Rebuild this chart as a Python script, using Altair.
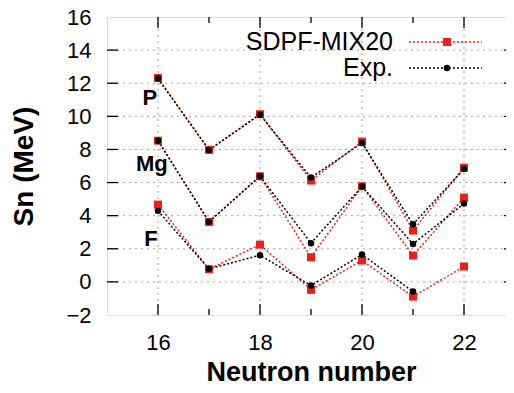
import altair as alt
import pandas as pd

# ---------------- data ----------------
neutrons = [16, 17, 18, 19, 20, 21, 22]
p_model = [12.32, 7.97, 10.13, 6.12, 8.47, 3.10, 6.90]
p_exp = [12.28, 7.97, 10.10, 6.30, 8.39, 3.48, 6.82]
mg_model = [8.53, 3.62, 6.38, 1.49, 5.78, 1.59, 5.09]
mg_exp = [8.53, 3.64, 6.38, 2.34, 5.76, 2.29, 4.73]
f_model = [4.67, 0.77, 2.25, -0.48, 1.29, -0.89, 0.93]
f_exp = [4.29, 0.79, 1.61, -0.22, 1.65, -0.58, None]

elements = ["P", "Mg", "F"]
label_n = [15.84, 15.88, 15.86]
label_sn = [11.1, 7.1, 2.6]

series_names = ["SDPF-MIX20", "Exp."]
x_major = [16, 18, 20, 22]
x_minor = [17, 19, 21]
y_ticks = [-2, 0, 2, 4, 6, 8, 10, 12, 14, 16]

rows = []
for elem, mod, exp in zip(elements, [p_model, mg_model, f_model], [p_exp, mg_exp, f_exp]):
    for n, m, e in zip(neutrons, mod, exp):
        rows.append({"N": n, "Sn": m, "elem": elem, "series": series_names[0]})
        if e is not None:
            rows.append({"N": n, "Sn": e, "elem": elem, "series": series_names[1]})
df = pd.DataFrame(rows)
model_df = df[df.series == series_names[0]]
exp_df = df[df.series == series_names[1]]
labels_df = pd.DataFrame({"elem": elements, "N": label_n, "Sn": label_sn})
xmaj_df = pd.DataFrame({"N": x_major})
xmin_df = pd.DataFrame({"N": x_minor})
ytick_df = pd.DataFrame({"Sn": y_ticks[1:-1]})
legend_df = pd.DataFrame({"series": series_names})

# ---------------- styling ----------------
W, H = 408, 298
FONT = "Liberation Sans"
RED = "#e8221b"
BLACK = "#000000"
GRID = "#a0a0a0"
xs = alt.Scale(domain=[15, 23], nice=False, zero=False)
ys = alt.Scale(domain=[-2, 16], nice=False, zero=False)

x_axis = alt.Axis(
    values=x_major, grid=False, ticks=False, domain=False, labelOverlap=False,
    labelFont=FONT, labelFontSize=22, labelColor=BLACK, labelPadding=17,
    title="Neutron number", titleFont=FONT, titleFontSize=27, titleFontWeight="bold",
    titleColor=BLACK, titleY=65, titleBaseline="alphabetic",
)
y_axis = alt.Axis(
    values=y_ticks, grid=False, ticks=False, domain=False, labelOverlap=False,
    labelFont=FONT, labelFontSize=22, labelColor=BLACK, labelPadding=16,
    title="Sn (MeV)", titleFont=FONT, titleFontSize=28, titleFontWeight="bold",
    titleColor=BLACK, titleX=-75, titleY=H / 2, titleBaseline="alphabetic",
)
X = alt.X("N:Q", scale=xs, axis=x_axis)
Y = alt.Y("Sn:Q", scale=ys, axis=y_axis)

# dotted grid (through the scales)
vgrid = alt.Chart(xmaj_df).mark_rule(color=GRID, strokeDash=[2, 4], strokeWidth=1).encode(x=X)
hgrid = alt.Chart(ytick_df).mark_rule(color=GRID, strokeDash=[2, 4], strokeWidth=1).encode(y=Y)

model_line = alt.Chart(model_df).mark_line(
    color=RED, strokeDash=[2, 2], strokeWidth=1.5
).encode(x=X, y=Y, detail="elem:N")
model_pts = alt.Chart(model_df).mark_point(
    shape="square", filled=True, color=RED, size=64, opacity=1
).encode(x=X, y=Y)
exp_line = alt.Chart(exp_df).mark_line(
    color=BLACK, strokeDash=[2, 2], strokeWidth=1.5
).encode(x=X, y=Y, detail="elem:N")
exp_pts = alt.Chart(exp_df).mark_point(
    shape="circle", filled=True, color=BLACK, size=42, opacity=1
).encode(x=X, y=Y)

elem_text = alt.Chart(labels_df).mark_text(
    font=FONT, fontSize=22, fontWeight="bold", color=BLACK, align="center", baseline="middle"
).encode(x=X, y=Y, text="elem:N")

# inward ticks (gnuplot style)
bot_major = alt.Chart(xmaj_df).mark_rule(color=BLACK, strokeWidth=1.3).encode(
    x=X, y=alt.value(H), y2=alt.value(H - 11))
bot_minor = alt.Chart(xmin_df).mark_rule(color=BLACK, strokeWidth=1.3).encode(
    x=X, y=alt.value(H), y2=alt.value(H - 6))
top_major = alt.Chart(xmaj_df).mark_rule(color=BLACK, strokeWidth=1.3).encode(
    x=X, y=alt.value(0), y2=alt.value(11))
top_minor = alt.Chart(xmin_df).mark_rule(color=BLACK, strokeWidth=1.3).encode(
    x=X, y=alt.value(0), y2=alt.value(6))
left_ticks = alt.Chart(ytick_df).mark_rule(color=BLACK, strokeWidth=1.3).encode(
    y=Y, x=alt.value(0), x2=alt.value(11))
right_ticks = alt.Chart(ytick_df).mark_rule(color=BLACK, strokeWidth=1.3).encode(
    y=Y, x=alt.value(W - 11), x2=alt.value(W))

# legend (top-right, gnuplot style: label left of sample)
leg_y = [25, 51]
leg_layers = []
for i, (name, col, shp, sz) in enumerate(
        [(series_names[0], RED, "square", 64), (series_names[1], BLACK, "circle", 42)]):
    d = legend_df[legend_df.series == name]
    leg_layers.append(alt.Chart(d).mark_text(
        font=FONT, fontSize=25, color=BLACK, align="right", baseline="middle"
    ).encode(x=alt.value(286), y=alt.value(leg_y[i]), text="series:N"))
    leg_layers.append(alt.Chart(d).mark_rule(color=col, strokeDash=[2, 2], strokeWidth=1.5).encode(
        x=alt.value(302), x2=alt.value(375), y=alt.value(leg_y[i])))
    leg_layers.append(alt.Chart(d).mark_point(shape=shp, filled=True, color=col, size=sz, opacity=1).encode(
        x=alt.value(340), y=alt.value(leg_y[i])))

chart = alt.layer(
    vgrid, hgrid, model_line, exp_line, model_pts, exp_pts, elem_text,
    bot_major, bot_minor, top_major, top_minor, left_ticks, right_ticks,
    *leg_layers
).properties(
    width=W, height=H,
    autosize=alt.AutoSizeParams(type="none"),
    padding={"left": 99, "top": 9, "right": -9, "bottom": 70},
).configure_view(stroke=BLACK, strokeWidth=1.6).configure(background="white")

chart.save("out.html", embed_options={"renderer": "svg", "actions": False})
